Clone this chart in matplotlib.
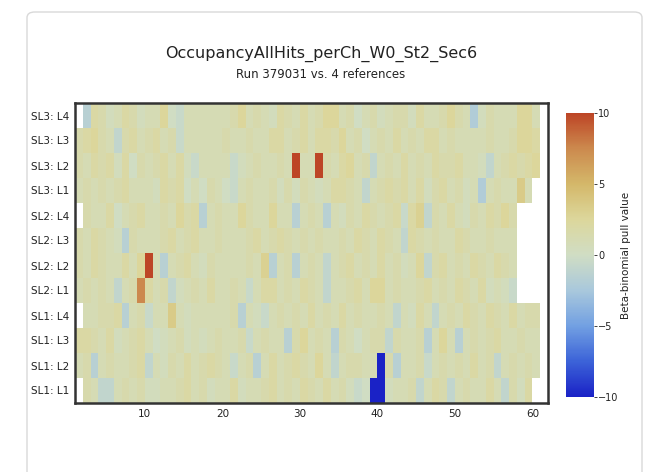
import numpy as np
import matplotlib
matplotlib.use("Agg")
from matplotlib import pyplot as plt
from matplotlib.colors import LinearSegmentedColormap
from matplotlib.patches import FancyBboxPatch

nan = np.nan

title = "OccupancyAllHits_perCh_W0_St2_Sec6"
subtitle = "Run 379031 vs. 4 references"
cbar_label = "Beta-binomial pull value"

layers = ["SL1: L1", "SL1: L2", "SL1: L3", "SL1: L4",
          "SL2: L1", "SL2: L2", "SL2: L3", "SL2: L4",
          "SL3: L1", "SL3: L2", "SL3: L3", "SL3: L4"]

# pull values per channel 1..61 (nan = no channel)
sl1_l1 = [nan, 1.5, 1, -1, -1, 1, 1.5, 1, 1.5, 0.5, 0.5, 1, 1, 1.5, 2, 1, 1.5, 0.5, 1, 1,
          2, 0.5, 1, 1, 1.5, 2, 1, 1.5, 1, 2, 1.5, 1, 2, 1, 1.5, 0.5, -0.5, 0, -10, -10,
          0.5, 1, 1, 1.5, -1, 1, 2, 1.5, -1, 1, 1.5, 1, 1, 2, 1, -1, 1.5, 0.5, 2, nan, nan]
sl1_l2 = [1, 1.5, -1.5, 1, 1.5, 1, 1, 1.5, 2, -1, 1, 0.5, 1.5, 1, 2, 1, 1.5, 2, 1.5, 1,
          -0.5, 1, 1.5, -1.5, 1, 2, 1, 1.5, 2, 1.5, 1, 2.5, 1, -1, 1, 1.5, 1.5, 1, 1, -10,
          1.5, -1.5, 1, 1, 1.5, -0.5, 1, 1.5, 1, 1.5, 1, 2, 1, 1.5, -1, 1, 1.5, 1, 1.5, 1, nan]
sl1_l3 = [2, 2, 1.5, 1, 2, 0.5, 1, 1.5, 2, 1, 0, 0.5, 1, 1.5, 0.5, 1, 0.5, 1, 1.5, 1,
          1, 1.5, -0.5, 1, 1.5, 1, 1, -1.5, 1.5, 2.5, 1, 1.5, 1, -1.5, 1.5, 1, 0, 1, 1.5, 1.5,
          -1, 1.5, 1, 1, 1.5, -1.5, 1, 2.5, 1, -1.5, 1, 1.5, 1, 1.5, 2, 1, 1, 1.5, 1, 1, nan]
sl1_l4 = [nan, 1, 1, 1.5, 1.5, 2, -1.5, 1, 1.5, -0.5, 1, 1, 3.5, 1, 0.5, 1, 1, 1, 1, 1,
          1.5, -1.5, 1, 0.5, -0.5, 1, 1.5, 1, 1.5, 1, 2, 1, 1.5, 1, 2, 1, 1.5, 1, 1, 1.5,
          1, -1, 1, 0.5, 2, 1, -1, 1, 1.5, 1, 2, 1.5, 1, 2, 1.5, 1, 2, 1, 1.5, 1.5, nan]
sl2_l1 = [1, 1.5, 1, 1.5, 1, -1, 1, 1.5, 7.5, 2, 1, 1.5, -1, 0.5, 1, 1.5, 1, 2, 1, 1,
          1.5, 1, -0.5, 1, 2, 2, 1, 1.5, 1, 2, 1.5, 1, -1, 1, 1, 1.5, 2, 1, 2.5, 2.5,
          1, 1.5, 1, 1, 1.5, 2, 1, 1.5, 1, 2, 1.5, 1, 2, 0.5, 1, 0.5, -0.5, nan, nan, nan, nan]
sl2_l2 = [1.5, 1, 2, 1.5, 1, 1, 2, 1, 2.5, 10, 1, -1.5, 1, 1.5, 2, 1, 0.5, 1.5, 1, 1,
          1, 1, 1.5, 1, 3, -1.5, 1, 1.5, -1.5, 1, 1.5, 1, -1, 1, 1.5, 2, 1, 1.5, 1, 2,
          1, 1.5, 0.5, 1, 2.5, -1, 1.5, 2, 1, 1.5, 1, 2, 1.5, 1, 2, 1.5, 1, nan, nan, nan, nan]
sl2_l3 = [1.5, 1, 2, 1.5, 1, 0.5, -1.5, 1.5, 1, 1, 1, 1.5, 2, 1, 1.5, 2, 1, 1, 1.5, 1,
          1, 1, 1.5, 2, 1, 1.5, 2, 1.5, 1, 1.5, 1, 1.5, 1, 1, 1.5, 1, 2, 1.5, 1, 2,
          1.5, 1, -1, 2, 1.5, 1, 1.5, 1, 1, 2, 1.5, 1, 1, 1.5, 1, 1, 1, nan, nan, nan, nan]
sl2_l4 = [nan, 1.5, 1, 1, 2, 0, 1, 1.5, 2, 1, 1, 1.5, 1, 2.5, 1.5, 2, -1.5, 1, 1.5, 1,
          1, 2.5, 1.5, 1, 1, 2.5, 1, 1, -1.5, 1, 1.5, 1, -1.5, 1, 0.5, 1.5, 1, 2, 1.5, 1,
          1.5, 2, -0.5, 2, 3, -1, 1.5, 1, 2, 1, 0.5, 1.5, 1, 2, 1.5, 2.5, 1.5, nan, nan, nan, nan]
sl3_l1 = [1, 1.5, 1, 1.5, 1, 1.5, 2, 1, 1, 1, 0.5, 2, 1.5, 2, 0, 1, 0, 1.5, 1, 0,
          -0.5, 1, 1.5, 1, 1, 1.5, 0.5, 1.5, 0.5, 1.5, 1, 0.5, 1, 2, 2, 1.5, 1, -1, 1, 1.5,
          2, 1.5, 2, 1, 2, 0.5, 1.5, 2, 1, 1.5, 0.5, 1, -2, 1, 1.5, 1, 1, 3.5, 1, nan, nan]
sl3_l2 = [1.5, 1, 2, 1.5, 2, 0.5, 2, 0, 1.5, 1, 1.5, 2, 1, 2, 0.5, -0.5, 1, 1, 1, 1,
          -0.5, 0.5, 1, 1.5, 1, 1, 1.5, 1, 10, 1, 1, 10, 1.5, 1, 2, 2.5, 1, 1.5, -1, 1,
          1.5, 1, 2, 1, 1.5, 1, 2, 1.5, 1.5, 2, 1, 1, 0.5, -1, 1, 1.5, 2, 1.5, 2, 2.5, nan]
sl3_l3 = [1.5, 2, 2.5, 1.5, 1, -1, 1.5, 2, 1, 1.5, 2, 1, 1.5, -0.5, 1, 1, 1, 1, 1, 1.5,
          1, 1, 1.5, 1, 1, 2, 2, 1, 1.5, 2, 1, 2, 2, 1.5, 2.5, 1, 1.5, 0, 1, 1.5,
          1, 2, 1, 1.5, 1, 2, 2, 1, 1.5, 1, 1, 1, 1, 1.5, 1, 1, 1.5, 2.5, 2.5, 2, nan]
sl3_l4 = [nan, -1.5, 2, 1.5, 0.5, 1, 2, 1.5, 0.5, 1, 1, 2.5, 0, -0.5, 1, 1, 1, 1, 1, 1,
          1.5, 2.5, 1, 1.5, 1, 0.5, 2, 1.5, 1, 2, 1, 1.5, 2.5, 2.5, 1, 1.5, 0, 1, 1.5, 0.5,
          1, 1.5, 1.5, 0.5, 2, 1, 1, 1.5, 2.5, 1.5, 1, -2, 0.5, 1.5, 1, 1, 1, 2.5, 2.5, 1, nan]

pulls = np.array([sl1_l1, sl1_l2, sl1_l3, sl1_l4,
                  sl2_l1, sl2_l2, sl2_l3, sl2_l4,
                  sl3_l1, sl3_l2, sl3_l3, sl3_l4], dtype=float)

cmap = LinearSegmentedColormap.from_list("pull", [
    (0.000, "#1a22c6"),
    (0.125, "#3c63d8"),
    (0.250, "#72a0e2"),
    (0.375, "#a9c8dc"),
    (0.500, "#d0ddc4"),
    (0.625, "#dcd79c"),
    (0.750, "#d4b86a"),
    (0.875, "#cc8a4e"),
    (1.000, "#bd4526"),
])
cmap.set_bad("white")

fig = plt.figure(figsize=(6.55, 4.72), dpi=100)
fig.patch.set_facecolor("white")

card = FancyBboxPatch((27 / 655, -0.05), 615 / 655, 1.0 - 12 / 472 + 0.05,
                      boxstyle="round,pad=0,rounding_size=0.012",
                      transform=fig.transFigure, facecolor="none",
                      edgecolor="#d9d9d9", linewidth=1.0, zorder=-10)
fig.patches.append(card)

ax = fig.add_axes([75 / 655, 1 - 403 / 472, 473 / 655, 300 / 472])
xedges = np.arange(1, pulls.shape[1] + 2)
yedges = np.arange(pulls.shape[0] + 1)
mesh = ax.pcolormesh(xedges, yedges, np.ma.masked_invalid(pulls),
                     cmap=cmap, vmin=-10, vmax=10)
ax.set_xlim(1, 62)
ax.set_ylim(0, 12)
ax.set_xticks([10, 20, 30, 40, 50, 60])
ax.set_yticks(np.arange(12) + 0.5)
ax.set_yticklabels(layers)
ax.tick_params(length=0, labelsize=7.5, pad=4, colors="#222222")
for s in ax.spines.values():
    s.set_linewidth(1.8)
    s.set_color("#333333")

fig.text(321 / 655, 1 - 54 / 472, title, ha="center", va="center",
         fontsize=11.5, color="#222222")
fig.text(321 / 655, 1 - 75 / 472, subtitle, ha="center", va="center",
         fontsize=8.5, color="#222222")

cax = fig.add_axes([566 / 655, 1 - 397 / 472, 28 / 655, 284 / 472])
cb = fig.colorbar(mesh, cax=cax, ticks=[-10, -5, 0, 5, 10])
cb.outline.set_visible(False)
cb.ax.tick_params(length=2, labelsize=7, width=0.6, colors="#222222", pad=1)
cb.set_label(cbar_label, fontsize=7.5, color="#222222", labelpad=2)

fig.savefig("out.png", dpi=100)
